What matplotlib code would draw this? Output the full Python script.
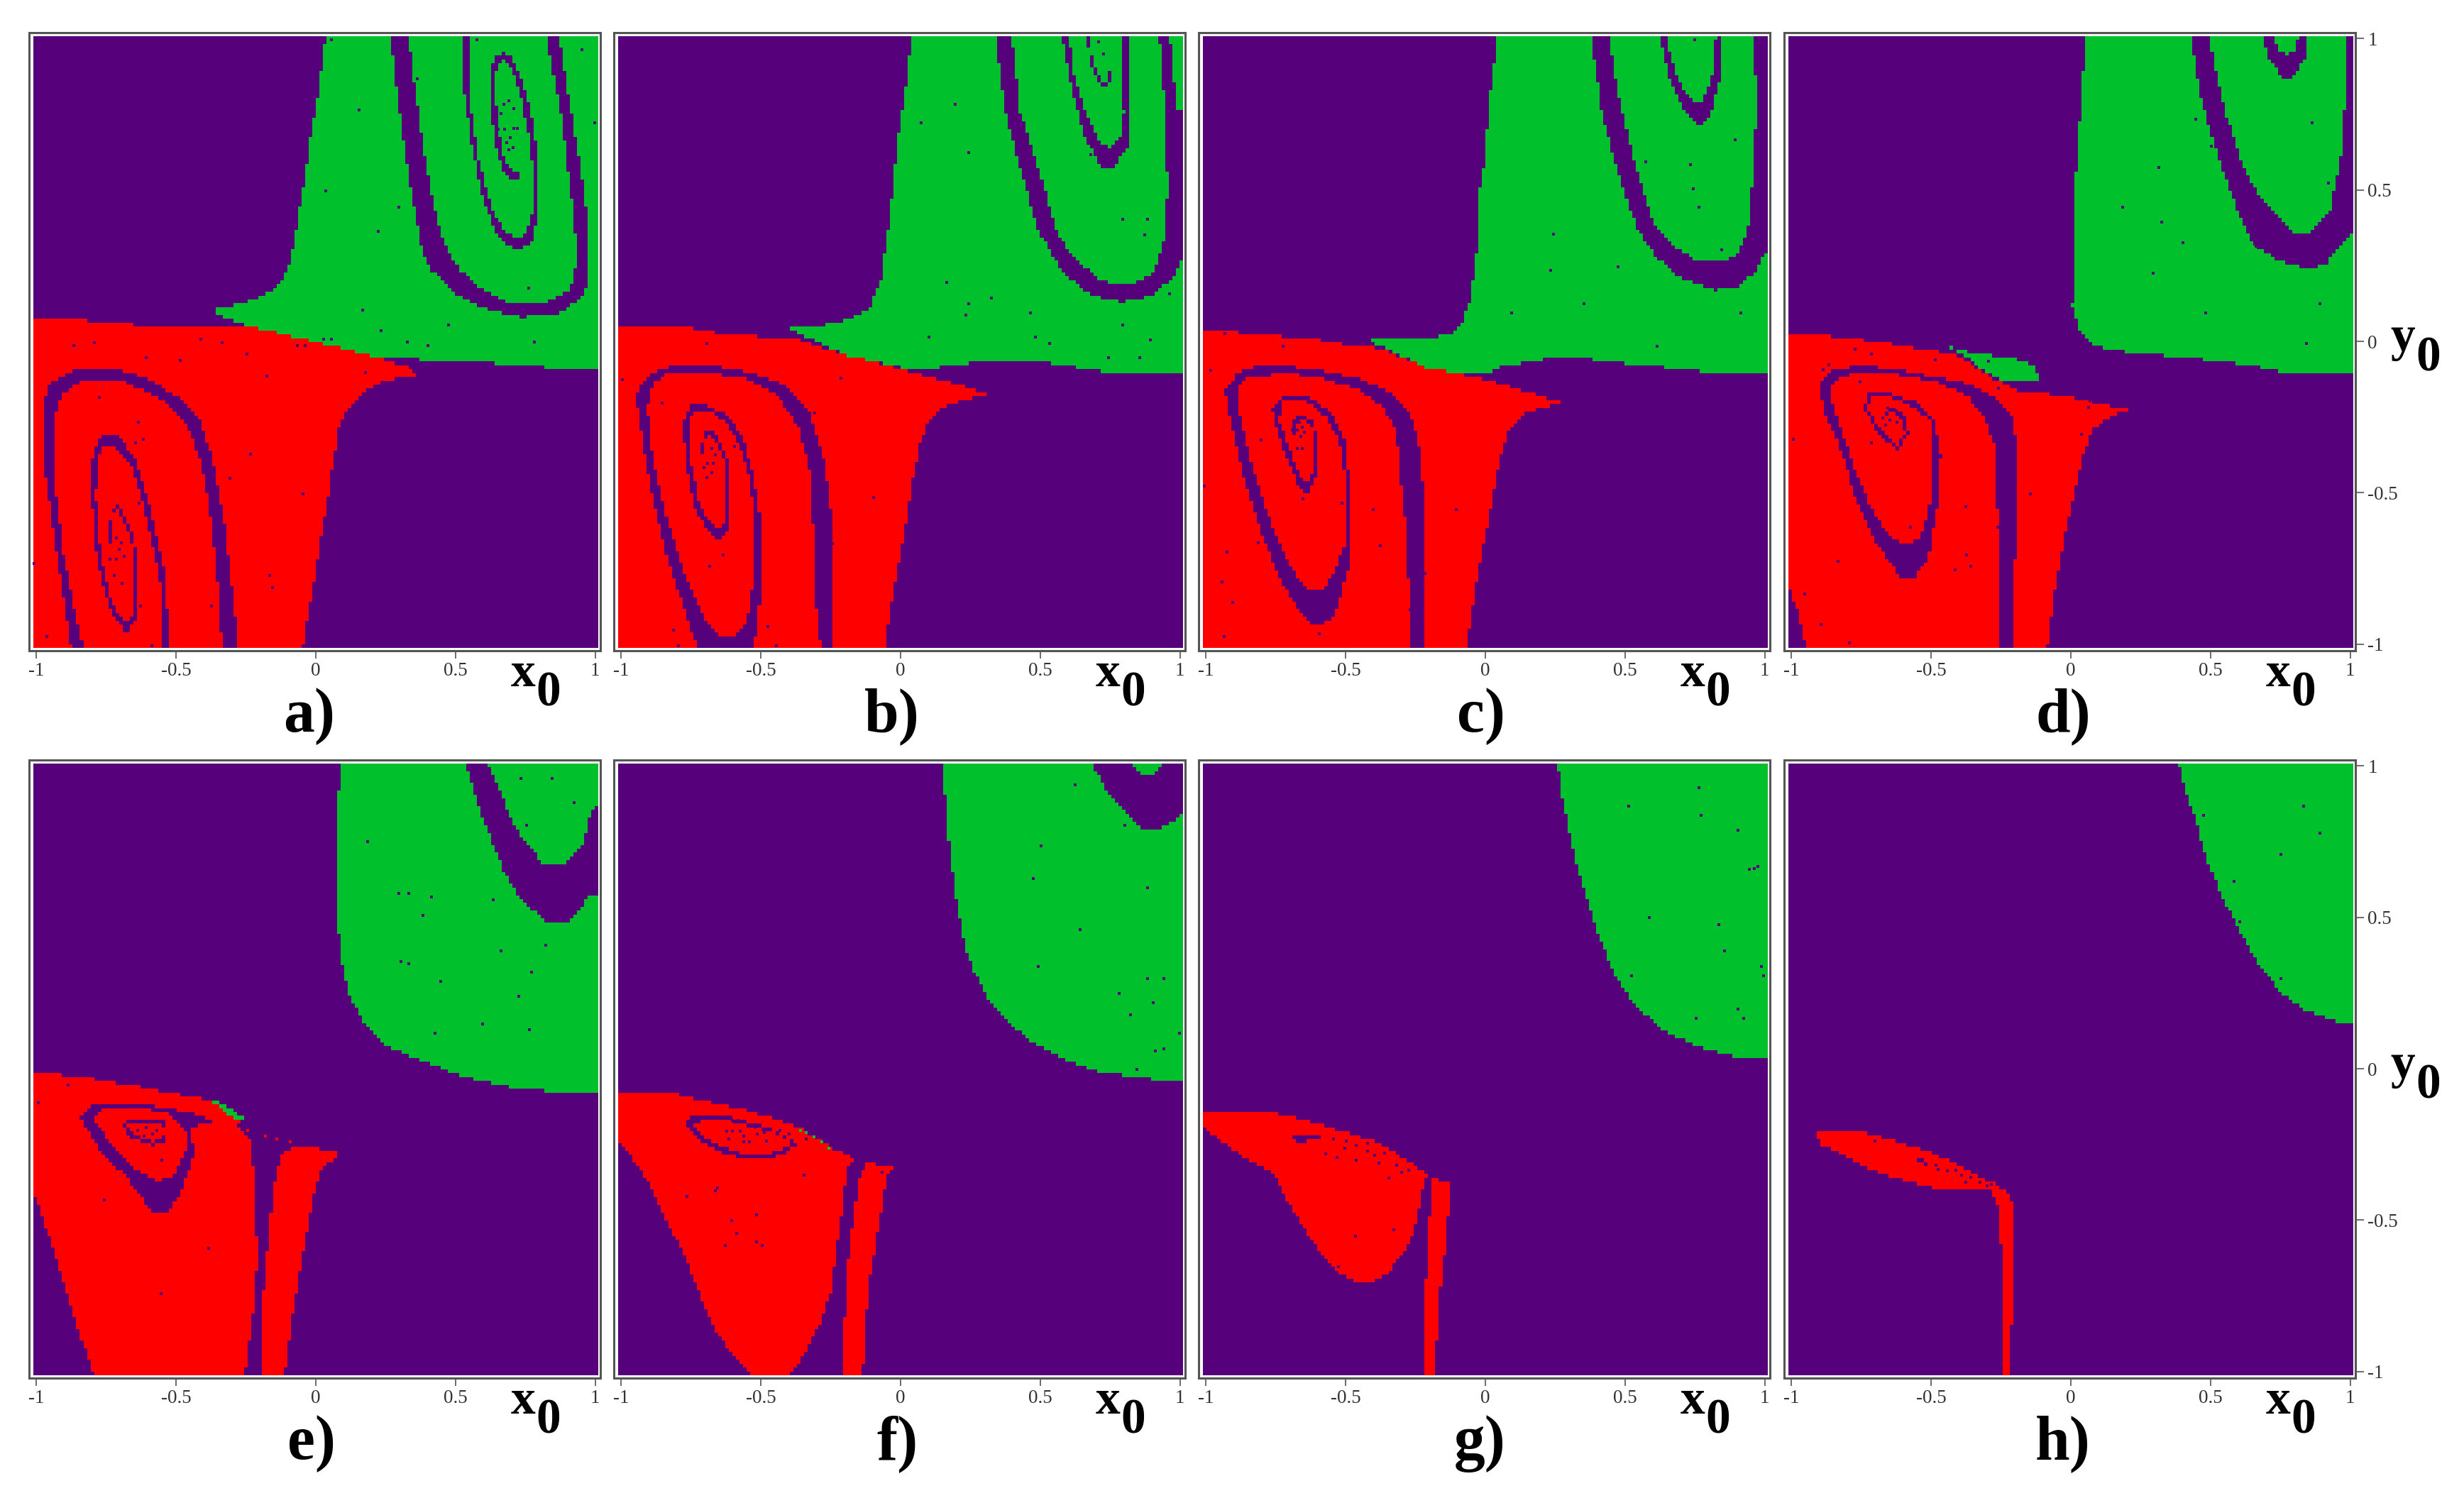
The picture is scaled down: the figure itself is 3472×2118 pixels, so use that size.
import numpy as np
import matplotlib
matplotlib.use("Agg")
import matplotlib.pyplot as plt
from matplotlib.colors import ListedColormap
from matplotlib.path import Path

PURPLE = "#57007b"
GREEN = "#00c12b"
RED = "#ff0000"

X_TICKS = [-1, -0.5, 0, 0.5, 1]
X_TICK_LABELS = ["-1", "-0.5", "0", "0.5", "1"]
Y_TICKS = [-1, -0.5, 0, 0.5, 1]
Y_TICK_LABELS = ["-1", "-0.5", "0", "0.5", "1"]
CAPTIONS = ["a)", "b)", "c)", "d)", "e)", "f)", "g)", "h)"]

# panel a
A_GREEN = [(.036, 1.02), (.021, .918), (0, .775), (-.02, .681), (-.044, .523), (-.059, .443), (-.078, .333),
           (-.103, .238), (-.139, .183), (-.183, .159), (-.255, .127), (-.379, .104), (-.313, .072), (-.175, .032),
           (0, -.007), (.181, -.047), (.327, -.059), (.545, -.066), (.821, -.086), (1.02, -.089), (1.02, 1.02)]
A_ARCH_OUT = [(.265, 1.02), (.29, .839), (.312, .681), (.341, .507), (.377, .317), (.414, .238), (.501, .159),
              (.617, .104), (.734, .08), (.865, .088), (.952, .143), (.981, .206), (.981, .364), (.952, .57),
              (.908, .807), (.872, 1.02)]
A_ARCH_IN = [(.331, 1.02), (.356, .839), (.385, .649), (.421, .459), (.457, .333), (.516, .238), (.603, .167),
             (.705, .124), (.821, .124), (.908, .167), (.93, .222), (.937, .301), (.916, .491), (.879, .76),
             (.828, 1.02)]
A_RING = [(.519, 1.02), (.53, .839), (.559, .649), (.603, .459), (.654, .349), (.719, .298), (.777, .333),
          (.799, .428), (.799, .617), (.77, .776), (.734, .886), (.705, .942), (.676, .96), (.639, .942),
          (.628, .886), (.632, .744), (.647, .649), (.668, .578), (.705, .53), (.734, .546), (.738, .586),
          (.719, .562), (.69, .578), (.668, .633), (.654, .728), (.642, .855), (.654, .926), (.676, .937),
          (.705, .902), (.734, .823), (.763, .696), (.78, .586), (.777, .428), (.76, .364), (.722, .341),
          (.676, .364), (.625, .459), (.581, .617), (.556, .776), (.548, 1.02)]
A_RED = [(-1.03, .08), (-.83, .08), (-.822, .067), (-.59, .051), (-.241, .051), (0, -.002), (.181, -.043),
         (.327, -.086), (.37, -.116), (.267, -.126), (.181, -.157), (.123, -.213), (.087, -.268), (.065, -.379),
         (.043, -.521), (.021, -.632), (-.008, -.806), (-.037, -.948), (-.049, -1.027), (-1.03, -1.03)]
A_BAND = [(-.878, -1.027), (-.939, -.663), (-.983, -.379), (-.985, -.221), (-.954, -.134), (-.859, -.091),
          (-.735, -.091), (-.619, -.118), (-.503, -.181), (-.415, -.268), (-.372, -.394), (-.328, -.616),
          (-.277, -1.027), (-.338, -1.027), (-.357, -.774), (-.386, -.537), (-.415, -.394), (-.473, -.268),
          (-.561, -.189), (-.692, -.134), (-.837, -.129), (-.917, -.181), (-.946, -.268), (-.939, -.474),
          (-.91, -.695), (-.866, -.9), (-.837, -1.027)]
A_BAND2 = [(-.529, -1.027), (-.539, -.79), (-.59, -.576), (-.648, -.394), (-.713, -.312), (-.772, -.315),
           (-.805, -.379), (-.808, -.521), (-.789, -.726), (-.743, -.893), (-.684, -.971), (-.641, -.916),
           (-.641, -.735), (-.663, -.632), (-.692, -.576), (-.716, -.54), (-.738, -.56), (-.747, -.671),
           (-.738, -.671), (-.733, -.576), (-.716, -.556), (-.695, -.592), (-.67, -.648), (-.651, -.735),
           (-.651, -.9), (-.684, -.94), (-.732, -.877), (-.774, -.726), (-.793, -.521), (-.79, -.394),
           (-.767, -.35), (-.721, -.35), (-.663, -.418), (-.612, -.576), (-.561, -.79), (-.556, -1.027)]
A_SPECKS = [(.364, .866), (.156, .763), (.036, .496), (.297, .444), (.225, .364), (.763, .175), (.167, .104),
            (.233, .036), (.475, .055), (.327, -.002), (.402, -.015), (.782, -.002), (.952, .964), (.999, .723),
            (.577, .997), (.055, .997), (.028, .006), (.055, .006), (.676, .701), (.708, .704), (.695, .673),
            (.683, .657), (.705, .641), (.69, .633), (.654, .7), (.673, .783), (.69, .795), (.708, .768),
            (.664, .752), (.722, .704), (-.713, -.65), (-.695, -.666), (-.703, -.687), (-.735, -.719),
            (-.713, -.719), (-.684, -.711), (-.721, -.774), (-.692, -.798), (-.865, -.015), (-.793, -.004),
            (-.607, -.055), (-.485, -.064), (-.412, .006), (-.335, -.004), (-.245, -.043), (-.175, -.115),
            (-.066, -.015), (-.037, -.015), (.177, -.104), (-.775, -.186), (-.634, -.268), (-.616, -.323),
            (-.644, -.334), (-.233, -.372), (-.306, -.453), (-.046, -.505), (-.633, -.534), (-.165, -.774),
            (-.155, -.814), (-.626, -.874), (-.373, -.874), (-1.007, -.734), (-.962, -.975), (-.585, -1.006)]

# panel b
B_GREEN = [(.039, 1.02), (.016, .823), (-.011, .681), (-.038, .428), (-.058, .301), (-.072, .206), (-.113, .111),
           (-.194, .072), (-.303, .048), (-.418, .048), (-.316, .004), (-.194, -.047), (-.004, -.086), (.077, -.094),
           (.267, -.07), (.512, -.07), (.742, -.102), (1.02, -.102), (1.02, 1.02)]
B_ARCH_OUT = [(.338, 1.02), (.376, .76), (.43, .57), (.498, .364), (.579, .23), (.688, .151), (.797, .131),
              (.905, .151), (.987, .222), (1.005, .262), (1.02, .262), (1.02, .766), (.992, .766), (.966, 1.02)]
B_ARCH_IN = [(.399, 1.02), (.43, .76), (.498, .57), (.552, .38), (.62, .277), (.729, .198), (.837, .19),
             (.905, .222), (.943, .317), (.959, .491), (.952, .744), (.929, 1.02)]
B_RING = [(.579, 1.02), (.613, .839), (.661, .681), (.715, .586), (.763, .57), (.817, .649), (.826, .744),
          (.821, 1.02), (.796, 1.02), (.803, .76), (.79, .681), (.756, .641), (.715, .665), (.661, .776),
          (.62, .886), (.604, 1.02)]
B_RING2 = [(.668, 1.02), (.681, .917), (.715, .854), (.736, .839), (.756, .862), (.756, .902), (.742, .902),
           (.749, .87), (.731, .854), (.701, .902), (.681, .965), (.679, 1.02)]
B_RED = [(-1.03, .051), (-.791, .051), (-.689, .032), (-.52, .017), (-.384, .009), (-.194, -.047), (-.004, -.09),
         (.199, -.142), (.31, -.176), (.24, -.192), (.159, -.217), (.104, -.26), (.071, -.331), (.043, -.458),
         (.023, -.584), (-.004, -.711), (-.038, -.885), (-.058, -1.027), (-1.03, -1.03)]
B_BAND = [(-.239, -1.027), (-.248, -.584), (-.275, -.394), (-.33, -.236), (-.425, -.142), (-.547, -.102),
          (-.669, -.081), (-.832, -.081), (-.913, -.118), (-.954, -.181), (-.94, -.268), (-.893, -.521),
          (-.838, -.726), (-.777, -.9), (-.73, -1.027), (-.529, -1.027), (-.503, -.837), (-.503, -.616),
          (-.527, -.458), (-.567, -.315), (-.628, -.244), (-.696, -.213), (-.757, -.213), (-.784, -.268),
          (-.775, -.394), (-.744, -.553), (-.696, -.624), (-.655, -.663), (-.621, -.632), (-.612, -.505),
          (-.621, -.394), (-.655, -.323), (-.683, -.295), (-.712, -.308), (-.721, -.379), (-.707, -.379),
          (-.703, -.323), (-.683, -.311), (-.655, -.347), (-.635, -.394), (-.626, -.521), (-.631, -.6),
          (-.655, -.624), (-.696, -.592), (-.73, -.521), (-.757, -.394), (-.767, -.284), (-.744, -.228),
          (-.696, -.228), (-.628, -.268), (-.581, -.339), (-.54, -.458), (-.527, -.616), (-.531, -.806),
          (-.554, -.932), (-.601, -.98), (-.655, -.98), (-.71, -.916), (-.778, -.774), (-.839, -.6),
          (-.893, -.379), (-.911, -.221), (-.893, -.142), (-.832, -.102), (-.669, -.107), (-.547, -.126),
          (-.452, -.173), (-.37, -.284), (-.323, -.442), (-.316, -.616), (-.303, -.9), (-.286, -1.027)]
B_SPECKS = [(.195, .783), (.075, .723), (.243, .624), (.166, .194), (.243, .124), (.326, .143), (.233, .086),
            (.465, .094), (.102, .013), (.484, .013), (.533, -.006), (.794, .053), (.894, .005), (.745, -.055),
            (.856, -.055), (.962, .156), (.794, .402), (.885, .402), (.875, .352), (.681, .617), (.726, .95),
            (.708, .989), (-.676, -.355), (-.662, -.375), (-.669, -.402), (-.689, -.402), (-.703, -.418),
            (-.676, -.434), (-.693, -.45), (-.594, -.347), (-.693, -.007), (-.995, -.126), (-.852, -.205),
            (-.214, -.121), (-.307, -.236), (-.095, -.516), (-.244, -.668), (-.635, -.706), (-.683, -.742),
            (-.811, -.954), (-.475, -.943), (-.794, -1.006), (-.445, -1.006)]

# panel c
C_GREEN = [(.042, 1.02), (.026, .886), (.012, .791), (-.001, .617), (-.022, .507), (-.035, .27), (-.056, .135),
           (-.09, .056), (-.123, .029), (-.205, .009), (-.422, .004), (-.327, -.039), (-.218, -.086), (-.123, -.11),
           (-.001, -.11), (.053, -.086), (.216, -.059), (.379, -.059), (.541, -.078), (.731, -.094), (.881, -.11),
           (1.02, -.11), (1.02, 1.02)]
C_ARCH_OUT = [(.379, 1.02), (.419, .76), (.474, .57), (.541, .38), (.609, .285), (.691, .214), (.826, .171),
              (.908, .183), (.976, .238), (1.007, .298), (1.02, .298), (1.02, 1.02)]
C_ARCH_IN = [(.444, 1.02), (.48, .807), (.541, .57), (.609, .38), (.691, .309), (.772, .262), (.854, .262),
             (.908, .293), (.942, .364), (.962, .57), (.976, .807), (.958, 1.02)]
C_RING = [(.623, 1.02), (.657, .886), (.718, .76), (.772, .715), (.813, .76), (.847, .886), (.854, 1.02),
          (.829, 1.02), (.826, .918), (.799, .831), (.769, .788), (.731, .807), (.684, .886), (.647, 1.02)]
C_RED = [(-1.03, .042), (-.89, .042), (-.883, .029), (-.768, .02), (-.612, .007), (-.517, -.009), (-.381, -.023),
         (-.218, -.086), (-.001, -.126), (.161, -.173), (.284, -.205), (.202, -.221), (.134, -.244), (.08, -.3),
         (.046, -.41), (.019, -.553), (-.015, -.711), (-.049, -.885), (-.069, -1.027), (-1.03, -1.03)]
C_BAND = [(-.218, -1.027), (-.223, -.489), (-.239, -.347), (-.266, -.252), (-.341, -.173), (-.449, -.126),
          (-.598, -.094), (-.734, -.081), (-.829, -.081), (-.897, -.11), (-.938, -.165), (-.917, -.268),
          (-.877, -.426), (-.822, -.6), (-.748, -.774), (-.68, -.885), (-.632, -.94), (-.592, -.94), (-.544, -.916),
          (-.517, -.837), (-.493, -.742), (-.493, -.458), (-.51, -.315), (-.558, -.236), (-.639, -.184),
          (-.734, -.184), (-.768, -.221), (-.754, -.284), (-.72, -.379), (-.673, -.481), (-.639, -.51),
          (-.612, -.458), (-.602, -.331), (-.619, -.268), (-.659, -.244), (-.691, -.26), (-.696, -.308),
          (-.688, -.308), (-.68, -.268), (-.653, -.26), (-.626, -.284), (-.612, -.347), (-.619, -.434),
          (-.639, -.473), (-.673, -.442), (-.713, -.339), (-.744, -.26), (-.734, -.201), (-.639, -.201),
          (-.571, -.252), (-.523, -.339), (-.505, -.458), (-.503, -.663), (-.523, -.711), (-.544, -.774),
          (-.592, -.83), (-.639, -.83), (-.707, -.742), (-.775, -.6), (-.836, -.426), (-.884, -.236), (-.89, -.157),
          (-.856, -.122), (-.734, -.107), (-.598, -.118), (-.449, -.165), (-.368, -.221), (-.32, -.3), (-.307, -.458),
          (-.286, -.616), (-.266, -1.027)]
C_SPECKS = [(.749, .997), (.894, .665), (.575, .594), (.735, .584), (.745, .504), (.765, .444), (.845, .303),
            (.243, .353), (.233, .235), (.475, .246), (.354, .124), (.094, .094), (.915, .094), (.615, -.017),
            (-.666, -.268), (-.673, -.292), (-.655, -.284), (-.691, -.292), (-.659, -.315), (-.646, -.3),
            (-.673, -.355), (-.655, -.355), (-.932, .026), (-.724, -.017), (-.981, -.096), (-.802, -.325),
            (-1.005, -.477), (-.653, -.521), (-.512, -.534), (-.402, -.556), (-.104, -.556), (-.924, -.695),
            (-.811, -.666), (-.375, -.676), (-.216, -.766), (-.942, -.795), (-.904, -.863), (-.934, -.975),
            (-.594, -.965), (-.27, -.885)]

# panel d
D_GREEN = [(.054, 1.02), (.038, .839), (.025, .649), (.008, .444), (.005, .111), (.03, .032), (.079, -.015),
           (.219, -.039), (.434, -.055), (.632, -.078), (.764, -.102), (1.02, -.102), (1.02, 1.02)]
D_ARCH_OUT = [(.431, 1.02), (.467, .807), (.533, .602), (.599, .428), (.657, .317), (.747, .269), (.846, .241),
              (.912, .254), (1.003, .357), (1.02, .357), (1.02, 1.02)]
D_ARCH_IN = [(.492, 1.02), (.549, .776), (.615, .586), (.681, .476), (.805, .36), (.863, .364), (.929, .428),
             (.97, .617), (.992, .886), (.992, 1.02)]
D_RING = [(.686, 1.02), (.714, .939), (.761, .878), (.797, .878), (.846, .94), (.851, 1.02), (.817, 1.02),
          (.813, .965), (.78, .953), (.747, .965), (.728, 1.02)]
D_ISLAND = [(-.449, -.015), (-.358, -.039), (-.21, -.055), (-.127, -.086), (-.119, -.126), (-.243, -.129),
            (-.309, -.102), (-.375, -.055)]
D_RED = [(-1.03, .019), (-.878, .019), (-.688, -.002), (-.523, -.028), (-.408, -.047), (-.292, -.118), (-.193, -.165),
         (-.028, -.181), (.104, -.208), (.211, -.225), (.137, -.252), (.079, -.292), (.038, -.395), (.005, -.537),
         (-.028, -.663), (-.061, -.837), (-.086, -1.011), (-.094, -1.027), (-.952, -1.027), (-.977, -.916),
         (-1.01, -.829), (-1.03, -.829)]
D_BAND = [(-.21, -1.027), (-.21, -.774), (-.193, -.679), (-.193, -.355), (-.21, -.252), (-.259, -.197), (-.358, -.142),
          (-.49, -.118), (-.622, -.094), (-.771, -.078), (-.87, -.102), (-.906, -.142), (-.886, -.236), (-.828, -.363),
          (-.771, -.537), (-.705, -.663), (-.614, -.787), (-.564, -.787), (-.515, -.726), (-.477, -.521), (-.47, -.379),
          (-.498, -.252), (-.548, -.205), (-.655, -.173), (-.729, -.173), (-.746, -.221), (-.688, -.315), (-.622, -.363),
          (-.586, -.308), (-.592, -.252), (-.647, -.213), (-.672, -.236), (-.663, -.244), (-.642, -.229), (-.606, -.26),
          (-.597, -.308), (-.625, -.347), (-.68, -.3), (-.733, -.221), (-.718, -.186), (-.655, -.186), (-.556, -.221),
          (-.506, -.268), (-.498, -.458), (-.515, -.584), (-.548, -.655), (-.597, -.679), (-.655, -.648), (-.721, -.553),
          (-.779, -.426), (-.837, -.268), (-.87, -.173), (-.845, -.126), (-.771, -.102), (-.622, -.11), (-.49, -.134),
          (-.375, -.181), (-.31, -.252), (-.276, -.347), (-.271, -.489), (-.256, -.648), (-.256, -1.027)]
D_SPECKS = [(.446, .734), (.863, .723), (.503, .645), (.315, .575), (.185, .444), (.325, .393), (.401, .325),
            (.662, .314), (.922, .523), (.295, .224), (.483, .094), (.891, .125), (.843, -.006), (-.295, -.066),
            (-.655, -.221), (-.625, -.229), (-.672, -.252), (-.647, -.26), (-.622, -.268), (-.663, -.276),
            (-.771, -.026), (-.713, -.043), (-.865, -.078), (-.886, -.094), (-.754, -.134), (-.485, -.062),
            (-.259, -.154), (-.028, -.176), (.068, -.197), (.064, -.217), (.038, -.308), (-.993, -.323),
            (-.713, -.334), (-.144, -.505), (-.375, -.545), (-.573, -.613), (-.262, -.613), (-.832, -.726),
            (-.373, -.706), (-.358, -.742), (-.413, -.755), (-.952, -.834), (-.894, -.935), (-.792, -.995)]

# panel e
E_GREEN = [(.089, 1.02), (.079, .877), (.079, .479), (.091, .367), (.116, .255), (.167, .16), (.254, .072),
           (.37, .032), (.516, -.024), (.705, -.064), (.937, -.083), (1.02, -.083), (1.02, 1.02)]
E_ARCH = [(.537, 1.02), (.588, .861), (.676, .654), (.748, .55), (.843, .482), (.908, .482), (.981, .574),
          (1.02, .58), (1.02, .874), (1.007, .874), (.988, .845), (.952, .734), (.887, .675), (.821, .675),
          (.719, .798), (.613, 1.02)]
E_RED = [(-1.03, -.019), (-.939, -.019), (-.815, -.032), (-.633, -.061), (-.379, -.104), (-.269, -.167), (-.284, -.183),
         (-.234, -.247), (-.215, -.447), (-.212, -.654), (-.226, -.813), (-.241, -.909), (-.258, -1.037), (-.793, -1.037),
         (-.851, -.877), (-.939, -.622), (-1.004, -.431), (-1.03, -.431)]
E_STRIP = [(-.2, -1.037), (-.19, -.766), (-.168, -.526), (-.146, -.351), (-.117, -.271), (-.037, -.255), (.087, -.282),
           (.021, -.335), (0, -.383), (-.023, -.486), (-.052, -.638), (-.088, -.829), (-.117, -1.037)]
E_SLIVER = [(-.383, -.104), (-.349, -.108), (-.262, -.16), (-.272, -.179), (-.327, -.144)]
E_RING_OUT = [(-.851, -.159), (-.807, -.12), (-.691, -.115), (-.539, -.128), (-.4, -.16), (-.357, -.183), (-.452, -.191),
              (-.441, -.287), (-.488, -.415), (-.532, -.475), (-.59, -.475), (-.677, -.367), (-.779, -.271)]
E_RING_IN = [(-.802, -.163), (-.77, -.136), (-.668, -.128), (-.539, -.144), (-.473, -.199), (-.462, -.255),
             (-.517, -.359), (-.568, -.375), (-.662, -.327), (-.743, -.247)]
E_CORE_OUT = [(-.699, -.191), (-.67, -.167), (-.6, -.164), (-.55, -.172), (-.535, -.2), (-.539, -.24), (-.59, -.255),
              (-.662, -.231)]
E_CORE_IN = [(-.685, -.191), (-.663, -.179), (-.6, -.176), (-.558, -.183), (-.546, -.205), (-.549, -.233), (-.59, -.242),
             (-.655, -.22)]
E_SPECKS = [(.735, .959), (.845, .959), (.924, .879), (.754, .805), (.185, .75), (.297, .579), (.334, .579),
            (.414, .568), (.635, .557), (.385, .507), (.664, .388), (.823, .408), (.305, .354), (.334, .346),
            (.446, .289), (.773, .319), (.727, .238), (.596, .147), (.427, .118), (.764, .128), (-.636, -.203),
            (-.607, -.195), (-.614, -.223), (-.568, -.203), (-.583, -.215), (-.885, -.053), (-.993, -.112),
            (-.551, -.303), (-.756, -.434), (-.383, -.593), (-.552, -.742)]
E_RED_SPECKS = [(-.244, -.203), (-.18, -.223), (-.139, -.233), (-.09, -.242)]

# panel f
F_GREEN = [(.152, 1.02), (.166, .813), (.179, .702), (.199, .558), (.227, .415), (.261, .327), (.308, .239),
           (.376, .167), (.457, .096), (.579, .032), (.702, -.008), (.864, -.032), (1.004, -.043), (1.02, -.043),
           (1.02, 1.02)]
F_CUT = [(.685, 1.02), (.729, .941), (.797, .861), (.864, .798), (.919, .79), (.98, .821), (1.004, .85),
         (1.02, .85), (1.02, 1.02)]
F_CAP = [(.826, 1.02), (.871, .973), (.905, .973), (.942, 1.02)]
F_RED = [(-1.03, -.077), (-.832, -.077), (-.709, -.107), (-.56, -.136), (-.452, -.167), (-.357, -.199), (-.248, -.263),
         (-.16, -.3), (-.194, -.335), (-.21, -.463), (-.232, -.606), (-.248, -.734), (-.289, -.845), (-.343, -.941),
         (-.411, -1.037), (-.52, -1.037), (-.601, -.957), (-.683, -.845), (-.778, -.622), (-.859, -.479), (-.913, -.367),
         (-.981, -.279), (-1.01, -.247), (-1.03, -.247)]
F_STRIP = [(-.21, -1.037), (-.194, -.686), (-.18, -.574), (-.167, -.463), (-.147, -.351), (-.126, -.316), (-.058, -.319),
           (-.028, -.33), (-.052, -.359), (-.072, -.479), (-.099, -.622), (-.119, -.734), (-.14, -1.037)]
F_RING_OUT = [(-.784, -.183), (-.757, -.16), (-.615, -.16), (-.465, -.199), (-.37, -.247), (-.411, -.279), (-.479, -.303),
              (-.56, -.303), (-.655, -.274), (-.736, -.231)]
F_RING_IN = [(-.747, -.191), (-.709, -.172), (-.615, -.172), (-.465, -.211), (-.387, -.247), (-.425, -.268),
             (-.493, -.287), (-.56, -.287), (-.642, -.258), (-.709, -.231)]
F_SPECKS = [(.624, .938), (.803, .805), (.503, .737), (.475, .628), (.883, .597), (.643, .459), (.494, .338),
            (.883, .298), (.942, .298), (.783, .249), (.904, .217), (.822, .179), (.997, .118), (.913, .059),
            (.942, .065), (.845, -.003), (-.601, -.172), (-.581, -.172), (-.622, -.207), (-.601, -.207), (-.574, -.207),
            (-.615, -.231), (-.56, -.242), (-.54, -.242), (-.52, -.191), (-.486, -.212), (-.479, -.239), (-.432, -.203),
            (-.398, -.215), (-.513, -.215), (-.56, -.223), (-.337, -.231), (-.345, -.352), (-.655, -.394), (-.662, -.402),
            (-.764, -.423), (-.516, -.482), (-.605, -.502), (-.586, -.544), (-.516, -.571), (-.626, -.584), (-.495, -.584),
            (-.773, -.622), (-.065, -.343)]
F_GREEN_SPECKS = [(-.337, -.212), (-.309, -.226), (-.282, -.242), (-.255, -.263), (-.357, -.203)]

# panel g
G_GREEN = [(.259, 1.02), (.27, .925), (.284, .861), (.311, .734), (.351, .606), (.392, .479), (.453, .335),
           (.528, .223), (.623, .136), (.745, .08), (.867, .048), (.921, .032), (1.02, .032), (1.02, 1.02)]
G_RED = [(-1.03, -.147), (-.985, -.14), (-.809, -.14), (-.693, -.16), (-.517, -.207), (-.381, -.247), (-.3, -.295),
         (-.212, -.351), (-.229, -.415), (-.246, -.502), (-.286, -.606), (-.354, -.678), (-.408, -.71), (-.463, -.71),
         (-.517, -.686), (-.598, -.606), (-.666, -.51), (-.721, -.431), (-.761, -.351), (-.87, -.295), (-.951, -.239),
         (-1.008, -.199), (-1.03, -.199)]
G_STRIP = [(-.218, -1.037), (-.218, -.79), (-.208, -.59), (-.191, -.367), (-.123, -.375), (-.134, -.407), (-.137, -.518),
           (-.148, -.614), (-.164, -.742), (-.171, -.861), (-.189, -1.037)]
G_HOLE = [(-.696, -.223), (-.585, -.223), (-.592, -.231), (-.653, -.231), (-.639, -.247), (-.673, -.247)]
G_SPECKS = [(.764, .927), (.514, .868), (.773, .837), (.904, .788), (.944, .659), (.962, .66), (.976, .668),
            (.586, .499), (.835, .475), (.856, .388), (.524, .306), (.987, .338), (.996, .306), (.904, .196),
            (.924, .167), (.754, .167), (-.544, -.231), (-.497, -.239), (-.503, -.263), (-.463, -.252), (-.571, -.282),
            (-.531, -.292), (-.463, -.303), (-.422, -.271), (-.395, -.287), (-.381, -.311), (-.361, -.279), (-.316, -.319),
            (-.3, -.343), (-.273, -.335), (-.345, -.362), (-.326, -.531), (-.465, -.553), (-.524, -.654), (-.422, -.247)]

# panel h
H_GREEN = [(.388, 1.02), (.409, .925), (.442, .845), (.492, .686), (.541, .574), (.607, .455), (.681, .335),
           (.764, .247), (.846, .191), (.945, .16), (1.003, .148), (1.02, .148), (1.02, 1.02)]
H_RED = [(-.919, -.223), (-.903, -.207), (-.771, -.207), (-.672, -.231), (-.523, -.271), (-.391, -.327), (-.259, -.391),
         (-.223, -.415), (-.21, -.447), (-.21, -.853), (-.221, -.861), (-.221, -1.037), (-.248, -1.037), (-.248, -.582),
         (-.256, -.574), (-.262, -.463), (-.284, -.407), (-.49, -.399), (-.589, -.375), (-.721, -.335), (-.82, -.287),
         (-.894, -.255)]
H_HOLE = [(-.556, -.303), (-.498, -.306), (-.523, -.319)]
H_SPECKS = [(.833, .868), (.891, .777), (.474, .837), (.752, .707), (.584, .619), (.604, .486), (.752, .297),
            (-.474, -.332), (-.441, -.338), (-.411, -.335), (-.391, -.351), (-.358, -.359), (-.325, -.375),
            (-.3, -.386), (-.284, -.383), (-.482, -.319), (-.701, -.239), (-.375, -.375)]

# 0 purple, 1 green, 2 red; later layers paint over earlier ones
PANELS = [
    ([(1, A_GREEN), (0, A_ARCH_OUT), (1, A_ARCH_IN), (0, A_RING), (2, A_RED), (0, A_BAND), (0, A_BAND2)], A_SPECKS, [], []),
    ([(1, B_GREEN), (0, B_ARCH_OUT), (1, B_ARCH_IN), (0, B_RING), (0, B_RING2), (2, B_RED), (0, B_BAND)], B_SPECKS, [], []),
    ([(1, C_GREEN), (0, C_ARCH_OUT), (1, C_ARCH_IN), (0, C_RING), (2, C_RED), (0, C_BAND)], C_SPECKS, [], []),
    ([(1, D_GREEN), (0, D_ARCH_OUT), (1, D_ARCH_IN), (0, D_RING), (1, D_ISLAND), (2, D_RED), (0, D_BAND)], D_SPECKS, [], []),
    ([(1, E_GREEN), (0, E_ARCH), (2, E_RED), (2, E_STRIP), (1, E_SLIVER), (0, E_RING_OUT), (2, E_RING_IN), (0, E_CORE_OUT),
      (2, E_CORE_IN)], E_SPECKS, E_RED_SPECKS, []),
    ([(1, F_GREEN), (0, F_CUT), (1, F_CAP), (2, F_RED), (2, F_STRIP), (0, F_RING_OUT), (2, F_RING_IN)], F_SPECKS, [], F_GREEN_SPECKS),
    ([(1, G_GREEN), (2, G_RED), (2, G_STRIP), (0, G_HOLE)], G_SPECKS, [], []),
    ([(1, H_GREEN), (2, H_RED), (0, H_HOLE)], H_SPECKS, [], []),
]

W, H = 3473, 2118
COL_LEFT = [41, 865, 1689, 2514]
ROW_TOP = [45.7, 1070.7]
FRAME_W, FRAME_H = 805, 871.6
CAPTION_X = [436, 1257, 2087, 2907, 439, 1265, 2085, 2907]

# data range of the frame and of the coloured area inside it
FRAME_XLIM = (-1.0254, 1.0185)
FRAME_YLIM = (-1.0225, 1.0202)
IMAGE_EXT = [-1.0109, 1.0084, -1.0124, 1.0077]
CELLS = 158


def rasterize(layers):
    xs = np.linspace(IMAGE_EXT[0], IMAGE_EXT[1], CELLS)
    ys = np.linspace(IMAGE_EXT[2], IMAGE_EXT[3], CELLS)
    gx, gy = np.meshgrid(xs, ys)
    pts = np.column_stack([gx.ravel(), gy.ravel()])
    grid = np.zeros(gx.shape, dtype=int)
    for code, poly in layers:
        inside = Path(poly + [poly[0]]).contains_points(pts).reshape(gx.shape)
        grid[inside] = code
    return grid


def put_text(x, y, s, size, ha="left"):
    plt.figtext(x / W, 1 - y / H, s, fontsize=size, ha=ha, va="baseline", family="Liberation Serif",
                fontweight="bold", color="black")


def draw_specks(ax, specks, color):
    if specks:
        pts = np.array(specks)
        ax.scatter(pts[:, 0], pts[:, 1], s=8, marker="s", color=color, linewidths=0, zorder=3)


def draw_panel(fig, i):
    layers, specks, red_specks, green_specks = PANELS[i]
    col, row = i % 4, i // 4
    left, top = COL_LEFT[col], ROW_TOP[row]
    ax = fig.add_axes([left / W, 1 - (top + FRAME_H) / H, FRAME_W / W, FRAME_H / H])
    ax.set_facecolor("white")
    cmap = ListedColormap([PURPLE, GREEN, RED])
    ax.imshow(rasterize(layers), origin="lower", extent=IMAGE_EXT, cmap=cmap, vmin=0, vmax=2,
              interpolation="nearest", aspect="auto", zorder=1)
    draw_specks(ax, specks, PURPLE)
    draw_specks(ax, red_specks, RED)
    draw_specks(ax, green_specks, GREEN)
    ax.set_xlim(FRAME_XLIM)
    ax.set_ylim(FRAME_YLIM)
    for spine in ax.spines.values():
        spine.set_color("#555555")
        spine.set_linewidth(2.2)
    ax.set_xticks(X_TICKS)
    ax.set_xticklabels(X_TICK_LABELS, family="Liberation Serif", color="#333333")
    ax.tick_params(axis="x", length=8, width=1.1, color="#444444", labelsize=19.5, pad=3)
    if col == 3:
        ax.yaxis.tick_right()
        ax.set_yticks(Y_TICKS)
        ax.set_yticklabels(Y_TICK_LABELS, family="Liberation Serif", color="#333333")
        ax.tick_params(axis="y", length=8.6, width=1.1, color="#444444", labelsize=19.5, pad=4)
    else:
        ax.set_yticks([])
    bottom = top + FRAME_H
    put_text(left + 679, bottom + 50, "x", 50)
    put_text(left + 714, bottom + 77, "0", 50)
    put_text(CAPTION_X[i], bottom + 114, CAPTIONS[i], 63, ha="center")
    if col == 3:
        put_text(3368, bottom - 423, "y", 50)
        put_text(3404, bottom - 395, "0", 50)


fig = plt.figure(figsize=(W / 100, H / 100), dpi=100, facecolor="white")
for i in range(8):
    draw_panel(fig, i)
fig.savefig("out.png", dpi=100)
